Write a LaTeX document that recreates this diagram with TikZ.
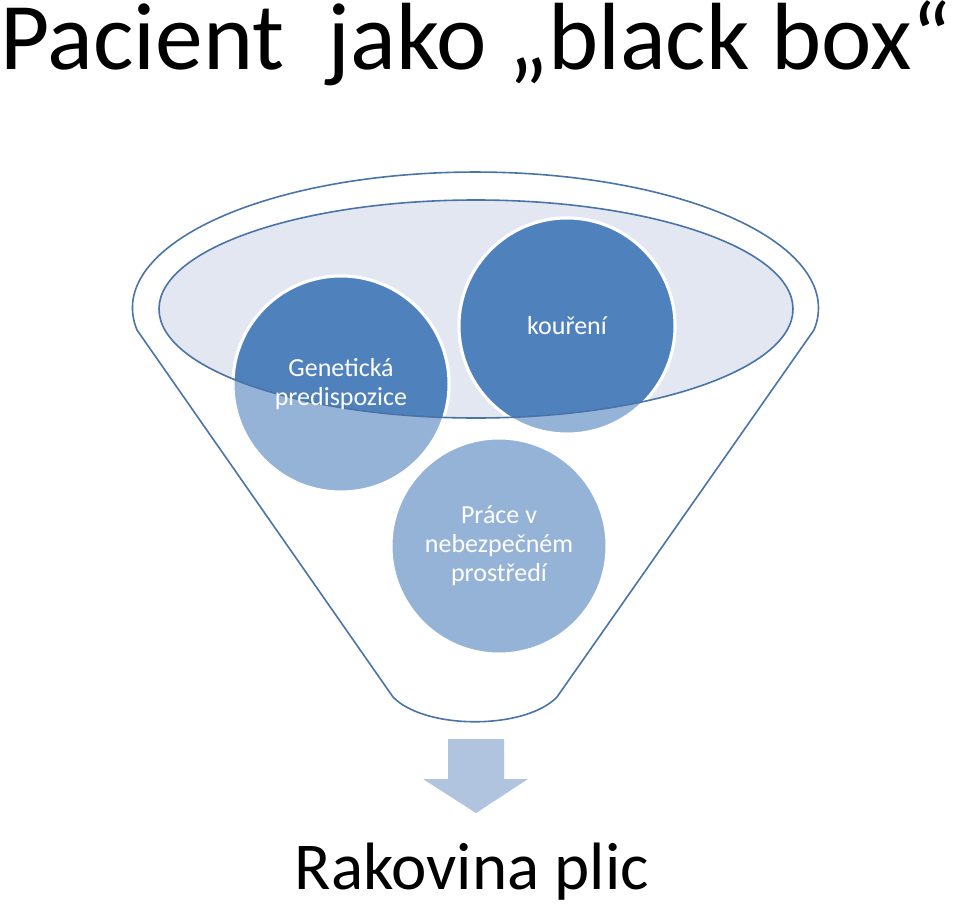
\documentclass[tikz,border=0pt]{standalone}
\usepackage{fontspec}
\setmainfont{Carlito}
\usetikzlibrary{positioning, shapes.geometric}
\definecolor{tmava}{HTML}{4F81BD}
\definecolor{svetla}{HTML}{95B3D7}
\definecolor{okraj}{HTML}{4A74A8}
\definecolor{vypln}{HTML}{E2E7F1}
\definecolor{sipkabarva}{HTML}{B0C3DF}
\tikzset{
  kruh/.style={circle, draw=white, line width=3pt, fill=svetla,
               minimum size=216pt, inner sep=0pt, align=center,
               text=white, font=\fontsize{26}{29}\selectfont},
  obrys/.style={draw=okraj, line width=1.6pt},
  nadpis/.style={inner sep=0pt, font=\fontsize{95.5}{100}\selectfont},
}

\begin{document}
\begin{tikzpicture}[x=1pt, y=-1pt]
  \useasboundingbox (0,0) rectangle (960,905);
  % trychtyr
  \draw[obrys, fill=white] (137,330) arc[start angle=170.7, end angle=369.3,
        x radius=343, y radius=136] -- (557,697)
        .. controls (525,730) and (425,730) .. (393,697) -- cycle;
  \node[ellipse, fill=vypln, minimum width=634pt, minimum height=218pt,
        inner sep=0pt] (okruh) at (476,309) {};
  % kruhy
  \node[kruh] (gen) at (341,384) {};
  \node[kruh] (koureni) at (567,326) {};
  \node[kruh] (prace) at (499,546) {Práce v\\nebezpečném\\prostředí};
  \begin{scope}
    \clip (okruh.center) ellipse[x radius=317, y radius=109];
    \draw[white, line width=3pt, fill=tmava] (gen.center) circle (108);
    \draw[white, line width=3pt, fill=tmava] (koureni.center) circle (108);
  \end{scope}
  \draw[obrys] (okruh.center) ellipse[x radius=317, y radius=109];
  \node[text=white, align=center, font=\fontsize{26}{29}\selectfont]
        at (gen) {Genetická\\predispozice};
  \node[text=white, font=\fontsize{26}{29}\selectfont]
        at (koureni) {kouření};
  % sipka
  \fill[sipkabarva] (448,739) -- (504,739) -- (504,779) -- (528,779)
        -- (476,813) -- (423,779) -- (448,779) -- cycle;
  % texty
  \node[nadpis, anchor=base west] (titulek) at (0,69)
        {Pacient\ \ jako „black box“};
  \node[inner sep=0pt, anchor=base, font=\fontsize{67}{70}\selectfont]
        (vysledek) at (472,889) {Rakovina plic};
\end{tikzpicture}
\end{document}
